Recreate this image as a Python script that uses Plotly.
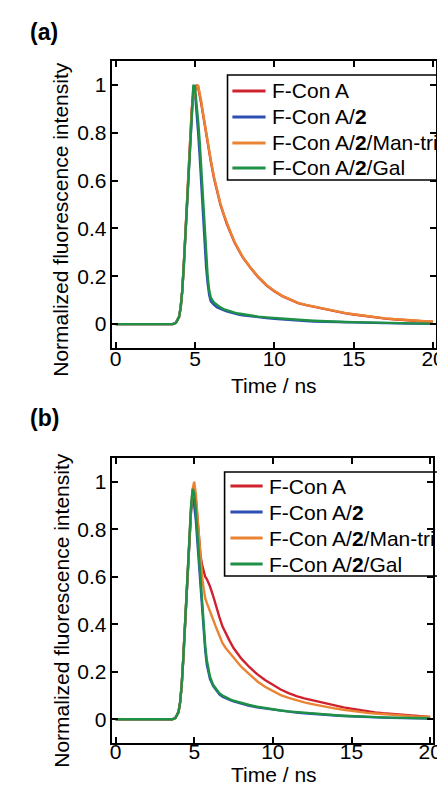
import plotly.graph_objects as go

# shared time axis (ns)
time_ns = [0, 3.6, 3.8, 4.0, 4.1, 4.2, 4.3, 4.4, 4.5, 4.6, 4.7, 4.8, 4.9,
           5.0, 5.1, 5.2, 5.3, 5.4, 5.5, 5.6, 5.7, 5.8, 5.9, 6.0, 6.2, 6.4,
           6.6, 6.8, 7.0, 7.25, 7.5, 7.75, 8.0, 8.5, 9.0, 9.5, 10.0, 10.5,
           11.0, 11.5, 12.0, 12.5, 13.0, 13.5, 14.0, 14.5, 15.0, 15.5, 16.0,
           16.5, 17.0, 17.5, 18.0, 18.5, 19.0, 19.5, 20.0]

rise = [0, 0, 0.005, 0.03, 0.07, 0.14, 0.25, 0.38, 0.5, 0.64, 0.78, 0.9]

# panel (a)
a_red = rise + [0.96, 0.98, 1.0, 0.99, 0.96, 0.92, 0.88, 0.84, 0.80, 0.76, 0.71,
                0.68, 0.61, 0.55, 0.50, 0.46, 0.42, 0.38, 0.34, 0.31, 0.28, 0.235,
                0.195, 0.162, 0.137, 0.117, 0.101, 0.088, 0.079, 0.072, 0.064,
                0.057, 0.050, 0.045, 0.040, 0.035, 0.030, 0.026, 0.023, 0.020,
                0.017, 0.015, 0.013, 0.011, 0.010]
a_blue = rise + [0.99, 0.97, 0.90, 0.80, 0.70, 0.58, 0.46, 0.34, 0.24, 0.17, 0.12,
                 0.095, 0.080, 0.070, 0.063, 0.058, 0.053, 0.048, 0.044, 0.040,
                 0.037, 0.032, 0.028, 0.025, 0.022, 0.019, 0.017, 0.015, 0.013,
                 0.011, 0.010, 0.009, 0.008, 0.007, 0.006, 0.005, 0.005, 0.004,
                 0.004, 0.003, 0.003, 0.002, 0.002, 0.001, 0.001]
a_orange = rise + [0.95, 0.97, 0.99, 1.0, 0.97, 0.93, 0.885, 0.845, 0.805, 0.76,
                   0.715, 0.685, 0.615, 0.555, 0.505, 0.462, 0.423, 0.383, 0.343,
                   0.312, 0.282, 0.237, 0.197, 0.164, 0.139, 0.118, 0.102, 0.089,
                   0.080, 0.073, 0.065, 0.058, 0.051, 0.046, 0.041, 0.036, 0.031,
                   0.027, 0.024, 0.021, 0.018, 0.016, 0.014, 0.012, 0.010]
a_green = rise + [1.0, 0.99, 0.93, 0.85, 0.76, 0.64, 0.52, 0.40, 0.28, 0.20, 0.14,
                  0.11, 0.090, 0.078, 0.070, 0.063, 0.058, 0.052, 0.048, 0.044,
                  0.041, 0.036, 0.031, 0.028, 0.025, 0.022, 0.020, 0.018, 0.016,
                  0.014, 0.012, 0.011, 0.010, 0.009, 0.008, 0.007, 0.006, 0.006,
                  0.005, 0.004, 0.004, 0.003, 0.003, 0.002, 0.002]

# panel (b)
b_red = rise[:-1] + [0.88, 0.95, 0.97, 0.93, 0.84, 0.76, 0.69, 0.65, 0.62, 0.60,
                     0.59, 0.575, 0.56, 0.52, 0.47, 0.43, 0.39, 0.36, 0.33, 0.30,
                     0.275, 0.255, 0.22, 0.19, 0.165, 0.145, 0.125, 0.11, 0.097,
                     0.088, 0.080, 0.073, 0.065, 0.057, 0.050, 0.044, 0.038,
                     0.033, 0.029, 0.025, 0.022, 0.019, 0.016, 0.014, 0.012, 0.010]
b_blue = rise[:-1] + [0.88, 0.93, 0.90, 0.84, 0.75, 0.65, 0.55, 0.46, 0.36, 0.29,
                      0.23, 0.195, 0.17, 0.14, 0.12, 0.105, 0.095, 0.088, 0.081,
                      0.075, 0.070, 0.065, 0.057, 0.050, 0.045, 0.040, 0.035, 0.031,
                      0.028, 0.025, 0.022, 0.020, 0.018, 0.016, 0.014, 0.012, 0.011,
                      0.009, 0.008, 0.007, 0.006, 0.005, 0.005, 0.004, 0.004, 0.003]
b_orange = rise[:-1] + [0.89, 0.97, 1.0, 0.95, 0.86, 0.76, 0.67, 0.60, 0.55, 0.51,
                        0.49, 0.47, 0.45, 0.42, 0.385, 0.35, 0.32, 0.30, 0.28, 0.26,
                        0.24, 0.22, 0.19, 0.16, 0.137, 0.118, 0.102, 0.09, 0.08,
                        0.071, 0.064, 0.057, 0.050, 0.045, 0.040, 0.035, 0.031,
                        0.027, 0.024, 0.021, 0.018, 0.016, 0.014, 0.012, 0.011, 0.010]
b_green = rise[:-1] + [0.9, 0.97, 0.95, 0.88, 0.78, 0.68, 0.57, 0.48, 0.38, 0.31,
                       0.25, 0.21, 0.18, 0.145, 0.125, 0.11, 0.10, 0.092, 0.085,
                       0.078, 0.073, 0.068, 0.060, 0.053, 0.047, 0.042, 0.037, 0.033,
                       0.030, 0.027, 0.024, 0.021, 0.019, 0.017, 0.015, 0.013, 0.012,
                       0.010, 0.009, 0.008, 0.007, 0.006, 0.005, 0.005, 0.004, 0.004]

names = ['F-Con A', 'F-Con A/<b>2</b>', 'F-Con A/<b>2</b>/Man-tri',
         'F-Con A/<b>2</b>/Gal']
colors = ['#D0222E', '#2E4FB2', '#EA8433', '#1F9147']

x_ticks = [0, 5, 10, 15, 20]
y_ticks = [0, 0.2, 0.4, 0.6, 0.8, 1]
y_tick_labels = ['0', '0.2', '0.4', '0.6', '0.8', '1']

W, H = 445, 785
FONT = 'Liberation Sans, Arial, sans-serif'
FS = 21


def px_x(p):
    return p / W


def px_y(p):
    return 1 - p / H


def text(s, x, y, size=FS, angle=0, anchor='center'):
    return dict(text=s, xref='paper', yref='paper', x=px_x(x), y=px_y(y),
                xanchor=anchor, yanchor='middle', showarrow=False,
                textangle=angle,
                font={'family': FONT, 'size': size, 'color': 'black'})


fig = go.Figure()

panels = [
    ('x', 'y', [a_red, a_blue, a_orange, a_green]),
    ('x2', 'y2', [b_red, b_blue, b_orange, b_green]),
]
for xa, ya, series in panels:
    for name, color, vals in zip(names, colors, series):
        fig.add_trace(go.Scatter(
            x=time_ns, y=vals, mode='lines', name=name,
            line={'color': color, 'width': 2.4},
            xaxis=xa, yaxis=ya, showlegend=False,
        ))

axis_common = dict(
    showline=True, linecolor='black', linewidth=1.6, mirror='ticks',
    ticks='inside', ticklen=6, tickwidth=1.6, tickcolor='black',
    showgrid=False, zeroline=False,
    tickfont={'family': FONT, 'size': FS, 'color': 'black'},
)

shapes = []
annotations = []

# legend boxes: (left, right, top, bottom, key x0, key x1, text x, entry ys)
legend_boxes = [
    (222, 441, 67, 172, 227, 261, 266, [83, 109, 135, 160]),
    (219, 441, 464, 568, 225, 258, 263, [478, 504, 530, 556]),
]
for left, right, top, bottom, k0, k1, tx, ys in legend_boxes:
    shapes.append(dict(type='rect', xref='paper', yref='paper', layer='above',
                       x0=px_x(left), x1=px_x(right), y0=px_y(bottom),
                       y1=px_y(top), line={'color': 'black', 'width': 1.6}))
    for name, color, yy in zip(names, colors, ys):
        shapes.append(dict(type='line', xref='paper', yref='paper',
                           layer='above', x0=px_x(k0), x1=px_x(k1),
                           y0=px_y(yy), y1=px_y(yy),
                           line={'color': color, 'width': 3}))
        annotations.append(text(name, tx, yy, anchor='left'))

# panel letters and axis titles
annotations += [
    text('<b>(a)</b>', 17, 24, size=23, anchor='left'),
    text('<b>(b)</b>', 17, 410, size=23, anchor='left'),
    text('Normalized fluorescence intensity', 51, 212, angle=-90),
    text('Normalized fluorescence intensity', 51, 603, angle=-90),
    text('Time / ns', 270, 377),
    text('Time / ns', 270, 766),
]

fig.update_layout(
    width=W, height=H,
    margin={'l': 0, 'r': 0, 't': 0, 'b': 0},
    paper_bgcolor='white', plot_bgcolor='white',
    showlegend=False,
    xaxis=dict(axis_common, domain=[px_x(104), px_x(436)], range=[-0.2, 20.2],
               tickvals=x_ticks, anchor='y', ticklabelstandoff=-9),
    yaxis=dict(axis_common, domain=[px_y(340), px_y(53)], range=[-0.1, 1.1],
               tickvals=y_ticks, ticktext=y_tick_labels, anchor='x'),
    xaxis2=dict(axis_common, domain=[px_x(104), px_x(433)], range=[-0.2, 20.2],
                tickvals=x_ticks, anchor='y2', ticklabelstandoff=-11),
    yaxis2=dict(axis_common, domain=[px_y(735), px_y(450)], range=[-0.1, 1.1],
                tickvals=y_ticks, ticktext=y_tick_labels, anchor='x2'),
    shapes=shapes,
    annotations=annotations,
)

fig.write_html('out.html')
